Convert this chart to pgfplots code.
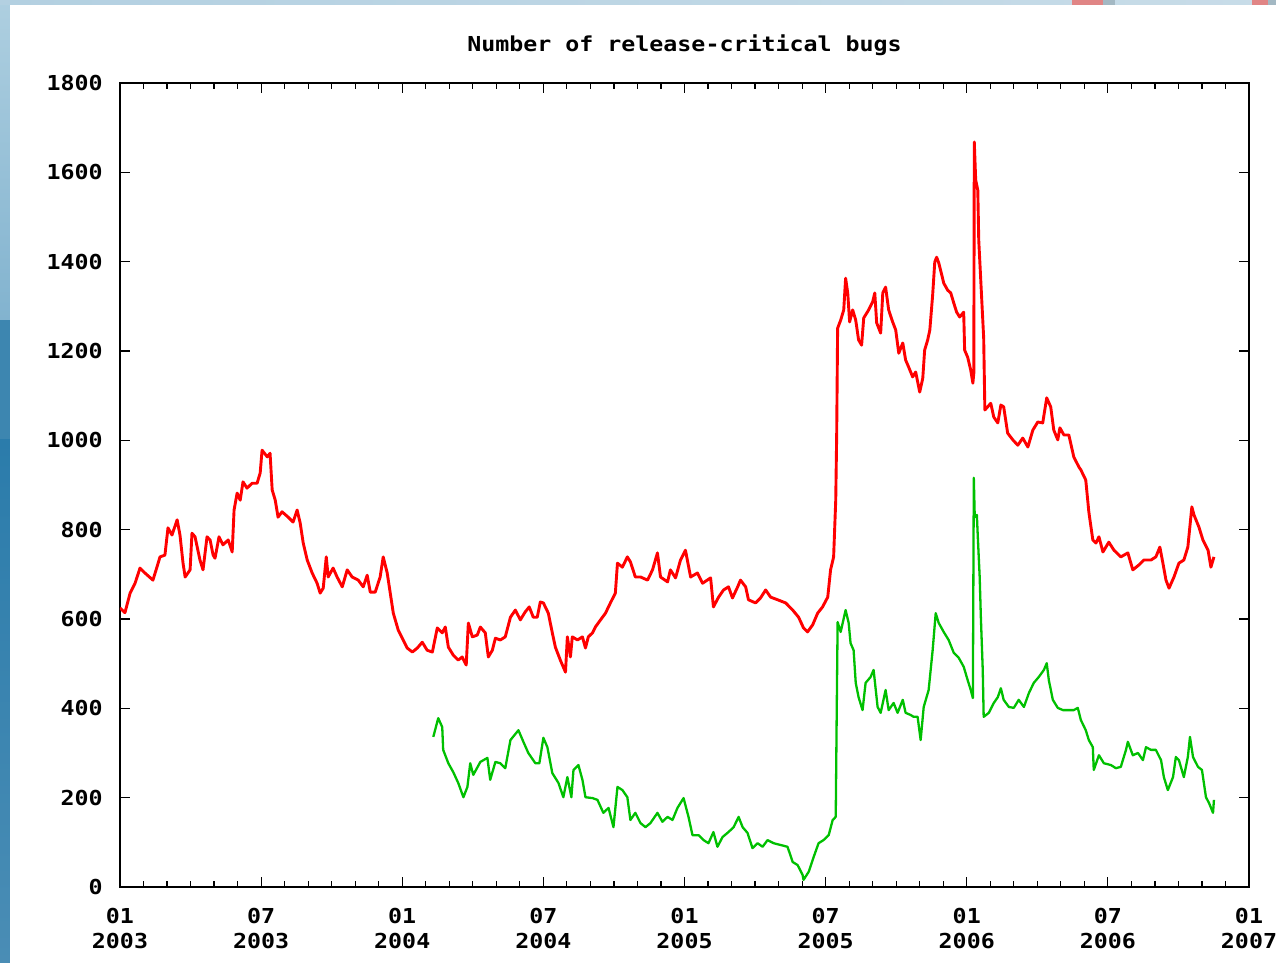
\documentclass[border=0pt]{standalone}
\usepackage{pgfplots}
\pgfplotsset{compat=1.18}
\usepackage{fontspec}
\newfontfamily\gp{DejaVu Sans Mono}[FakeStretch=1.13]
\newcommand\gpfont{\fontsize{10.3pt}{12.5pt}\selectfont\gp\bfseries}
\definecolor{gpgreen}{RGB}{0,192,0}
\definecolor{stripA}{HTML}{AECFE0}
\definecolor{stripB}{HTML}{82B3CF}
\definecolor{stripC}{HTML}{3D86B0}
\definecolor{stripD}{HTML}{2B7CAB}
\definecolor{stripE}{HTML}{4A8DB5}
\definecolor{topA}{HTML}{B3D0E1}
\definecolor{topB}{HTML}{C8DCE8}
\definecolor{pinkp}{HTML}{E08585}
\definecolor{grayp}{HTML}{A3B8C3}
\begin{document}
\begin{tikzpicture}
\useasboundingbox (-60pt,-38pt) rectangle (578pt,443.5pt);
\fill[white] (-60pt,-38pt) rectangle (578pt,443.5pt);
\shade[top color=stripA, bottom color=stripB] (-60pt,283.5pt) rectangle (-55pt,443.5pt);
\fill[stripC] (-60pt,223.5pt) rectangle (-55pt,283.5pt);
\shade[top color=stripD, bottom color=stripE] (-60pt,-38pt) rectangle (-55pt,223.5pt);
\shade[left color=topA, right color=topB] (-60pt,441pt) rectangle (578pt,443.5pt);
\fill[pinkp] (476pt,441pt) rectangle (491.5pt,443.5pt);
\fill[grayp] (491.5pt,441pt) rectangle (497.5pt,443.5pt);
\fill[pinkp] (566pt,441pt) rectangle (574pt,443.5pt);
\fill[grayp] (574pt,441pt) rectangle (578pt,443.5pt);
\begin{axis}[
  at={(0,0)}, anchor=south west,
  scale only axis, width=564.5pt, height=402pt,
  xmin=0, xmax=48, ymin=0, ymax=1800,
  xtick={0,6,...,48},
  xticklabels={{01\\2003},{07\\2003},{01\\2004},{07\\2004},{01\\2005},{07\\2005},{01\\2006},{07\\2006},{01\\2007}},
  minor x tick num=5,
  ytick={0,200,...,1800},
  tick align=inside, tick pos=both,
  major tick length=5pt, minor tick length=3pt,
  every tick/.style={black, line width=0.6pt},
  axis line style={line width=0.9pt, black},
  /pgf/number format/assume math mode=true,
  /pgf/number format/1000 sep={},
  xticklabel style={font=\gpfont, align=center, anchor=north, inner sep=0pt, yshift=-10.5pt},
  yticklabel style={font=\gpfont, anchor=east, inner sep=0pt, xshift=-8.5pt},
  title={Number of release-critical bugs},
  title style={font=\gpfont, anchor=base, at={(0.5,1)}, yshift=9.5pt, inner sep=0pt},
]
\addplot[red, line width=1.45pt, line join=round] coordinates {
(0.00,625)(0.21,614)(0.43,658)(0.64,680)(0.85,714)(1.06,703)(1.40,687)(1.57,716)(1.70,739)(1.91,743)
(2.04,804)(2.21,788)(2.43,822)(2.55,788)(2.68,725)(2.77,694)(2.98,710)(3.06,792)(3.19,784)(3.40,732)
(3.53,710)(3.70,784)(3.83,777)(3.96,743)(4.04,736)(4.21,784)(4.38,766)(4.60,777)(4.77,750)(4.85,844)
(4.98,882)(5.11,866)(5.23,907)(5.40,893)(5.62,904)(5.83,904)(5.96,927)(6.04,978)(6.26,963)(6.38,971)
(6.47,889)(6.60,866)(6.72,828)(6.89,840)(7.15,828)(7.36,817)(7.53,844)(7.66,815)(7.79,770)(7.96,732)
(8.17,703)(8.38,680)(8.51,658)(8.64,669)(8.77,739)(8.85,694)(9.06,714)(9.23,694)(9.45,672)(9.66,710)
(9.87,694)(10.13,687)(10.34,672)(10.51,698)(10.64,660)(10.85,660)(11.06,694)(11.19,739)(11.36,703)(11.49,658)
(11.62,613)(11.83,575)(12.00,557)(12.21,535)(12.43,526)(12.64,535)(12.85,548)(13.06,530)(13.28,526)(13.49,580)
(13.70,569)(13.83,582)(13.96,537)(14.17,519)(14.38,508)(14.55,515)(14.72,497)(14.81,591)(14.98,560)(15.19,564)
(15.32,582)(15.53,569)(15.66,515)(15.83,530)(15.96,557)(16.17,553)(16.38,560)(16.60,604)(16.81,620)(17.02,598)
(17.23,616)(17.40,627)(17.57,604)(17.74,604)(17.87,638)(18.00,636)(18.21,613)(18.38,569)(18.51,537)(18.72,508)
(18.94,481)(19.02,560)(19.15,515)(19.23,560)(19.45,553)(19.66,560)(19.79,535)(19.91,560)(20.09,569)(20.21,582)
(20.43,598)(20.64,613)(20.85,636)(21.06,658)(21.15,725)(21.36,716)(21.57,739)(21.70,728)(21.91,694)(22.13,694)
(22.43,687)(22.64,710)(22.85,748)(22.98,694)(23.28,683)(23.40,710)(23.62,692)(23.83,732)(24.04,754)(24.26,694)
(24.55,703)(24.77,680)(25.11,692)(25.23,627)(25.45,649)(25.66,665)(25.87,672)(26.04,647)(26.26,672)(26.38,687)
(26.60,672)(26.72,643)(27.02,636)(27.23,647)(27.45,665)(27.66,649)(27.96,643)(28.30,636)(28.60,620)(28.85,604)
(29.06,580)(29.23,571)(29.45,587)(29.66,613)(29.87,627)(30.09,649)(30.21,710)(30.34,739)(30.43,866)(30.47,1012)
(30.51,1251)(30.64,1269)(30.77,1292)(30.85,1363)(30.94,1330)(31.02,1265)(31.15,1292)(31.28,1269)(31.40,1225)(31.53,1213)
(31.62,1274)(31.83,1292)(32.00,1310)(32.09,1330)(32.17,1263)(32.34,1240)(32.43,1330)(32.55,1343)(32.68,1292)(32.85,1265)
(32.98,1247)(33.11,1195)(33.28,1218)(33.40,1180)(33.53,1164)(33.70,1142)(33.83,1153)(34.00,1108)(34.13,1139)(34.21,1202)
(34.34,1225)(34.43,1247)(34.55,1325)(34.64,1399)(34.72,1410)(34.81,1397)(34.94,1370)(35.02,1352)(35.19,1336)(35.32,1330)
(35.45,1307)(35.57,1287)(35.70,1276)(35.87,1287)(35.91,1202)(36.04,1186)(36.17,1157)(36.26,1128)(36.30,1150)(36.32,1668)
(36.38,1583)(36.47,1560)(36.51,1448)(36.60,1354)(36.72,1229)(36.77,1068)(36.89,1075)(37.02,1083)(37.15,1052)(37.32,1039)
(37.45,1079)(37.57,1075)(37.74,1016)(37.96,1001)(38.17,989)(38.38,1005)(38.60,985)(38.81,1023)(39.02,1041)(39.23,1039)
(39.40,1095)(39.57,1075)(39.70,1023)(39.87,1001)(39.96,1028)(40.13,1012)(40.34,1012)(40.55,963)(40.77,940)(40.85,934)
(41.06,911)(41.19,840)(41.36,777)(41.49,770)(41.62,784)(41.79,750)(42.04,772)(42.26,754)(42.55,739)(42.85,748)
(43.06,710)(43.32,721)(43.53,732)(43.83,732)(44.04,739)(44.21,761)(44.34,725)(44.47,687)(44.60,669)(44.81,694)
(45.02,725)(45.23,732)(45.40,761)(45.57,851)(45.66,833)(45.87,806)(46.04,777)(46.26,754)(46.38,716)(46.51,739)
};
\addplot[gpgreen, line width=1.15pt, line join=round] coordinates {
(13.32,336)(13.53,378)(13.70,358)(13.74,307)(13.96,277)(14.17,257)(14.38,233)(14.60,201)(14.77,224)(14.89,277)
(15.02,251)(15.32,280)(15.62,289)(15.74,240)(15.96,280)(16.17,277)(16.38,266)(16.60,329)(16.94,351)(17.15,325)
(17.36,300)(17.66,277)(17.83,277)(18.00,334)(18.17,313)(18.38,255)(18.64,233)(18.85,201)(19.02,246)(19.19,201)
(19.28,262)(19.49,273)(19.66,240)(19.79,201)(20.09,199)(20.30,195)(20.55,166)(20.77,177)(20.98,134)(21.15,224)
(21.36,217)(21.57,201)(21.70,150)(21.91,166)(22.13,143)(22.34,134)(22.55,143)(22.85,166)(23.06,146)(23.28,157)
(23.49,150)(23.70,177)(23.96,199)(24.17,157)(24.34,116)(24.60,116)(24.81,105)(25.02,98)(25.23,123)(25.40,90)
(25.62,112)(25.87,123)(26.09,134)(26.30,157)(26.47,134)(26.68,121)(26.89,87)(27.11,98)(27.32,90)(27.53,105)
(27.79,98)(28.09,94)(28.38,90)(28.60,56)(28.81,49)(29.02,27)(29.06,16)(29.28,34)(29.49,67)(29.70,98)
(29.91,105)(30.13,116)(30.30,150)(30.43,157)(30.47,381)(30.51,593)(30.64,571)(30.85,620)(30.98,591)(31.06,546)
(31.19,530)(31.28,457)(31.40,425)(31.57,396)(31.70,457)(31.91,470)(32.04,486)(32.21,403)(32.34,390)(32.55,441)
(32.68,396)(32.89,412)(33.06,390)(33.28,419)(33.40,390)(33.62,385)(33.74,381)(33.91,381)(34.04,329)(34.17,403)
(34.38,441)(34.55,530)(34.68,613)(34.81,591)(35.02,571)(35.23,553)(35.45,524)(35.66,513)(35.87,493)(36.04,463)
(36.17,441)(36.26,423)(36.30,916)(36.34,828)(36.43,833)(36.47,784)(36.55,694)(36.60,604)(36.68,486)(36.72,381)
(36.94,390)(37.15,412)(37.32,425)(37.45,445)(37.57,419)(37.79,403)(38.00,401)(38.21,419)(38.43,403)(38.64,434)
(38.85,457)(39.06,470)(39.28,486)(39.40,501)(39.49,463)(39.66,419)(39.87,401)(40.09,396)(40.30,396)(40.55,396)
(40.72,401)(40.85,374)(41.06,351)(41.19,329)(41.36,313)(41.40,262)(41.62,295)(41.83,277)(42.13,273)(42.34,266)
(42.55,269)(42.77,307)(42.85,325)(43.06,295)(43.28,300)(43.49,284)(43.62,313)(43.83,307)(44.04,307)(44.26,284)
(44.38,246)(44.55,217)(44.77,246)(44.89,291)(45.02,284)(45.23,246)(45.40,291)(45.49,336)(45.62,291)(45.83,269)
(46.00,262)(46.17,201)(46.30,188)(46.47,166)(46.51,195)
};
\end{axis}
\end{tikzpicture}
\end{document}
